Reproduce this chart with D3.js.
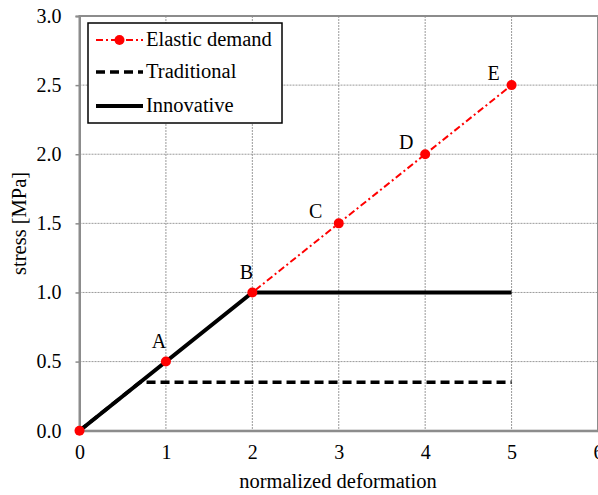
<!DOCTYPE html>
<html lang="en">
<head>
<meta charset="UTF-8" />
<title>Stress vs deformation</title>
<script src="https://cdn.jsdelivr.net/npm/d3@7"></script>
<style>
  body { margin: 0; background: #fff; }
  svg { display: block; font-family: "Liberation Serif", "Times New Roman", serif; }
</style>
</head>
<body>
<svg width="598" height="495"></svg>
<script>
const xTicks = [0, 1, 2, 3, 4, 5, 6];
const yTicks = [0, 0.5, 1.0, 1.5, 2.0, 2.5, 3.0];

const elasticX = [0, 1, 2, 3, 4, 5];
const elasticY = [0, 0.5, 1.0, 1.5, 2.0, 2.5];
const pointNames = ["", "A", "B", "C", "D", "E"];

const traditionalX = [0, 0.7, 5];
const traditionalY = [0, 0.35, 0.35];

const innovativeX = [0, 2, 5];
const innovativeY = [0, 1.0, 1.0];

const legendNames = ["Elastic demand", "Traditional", "Innovative"];

// pixel offsets of the point letters from their markers
const labelDx = [0, -7, -6, -23, -19, -18];
const labelDy = [0, -14, -13, -5, -5, -5];

const svg = d3.select("svg");
const plotL = 79.5, plotR = 598, plotT = 16, plotB = 430.7;

const x = d3.scaleLinear().domain([0, 6]).range([plotL, plotR]);
const y = d3.scaleLinear().domain([0, 3]).range([plotB, plotT]);

// grid
svg.append("g").selectAll("line").data(xTicks.slice(1, -1)).join("line")
  .attr("x1", d => x(d)).attr("x2", d => x(d))
  .attr("y1", plotT).attr("y2", plotB)
  .attr("stroke", "#9a9a9a").attr("stroke-width", 1).attr("stroke-dasharray", "2,1");
svg.append("g").selectAll("line").data(yTicks.slice(1, -1)).join("line")
  .attr("x1", plotL).attr("x2", plotR)
  .attr("y1", d => y(d)).attr("y2", d => y(d))
  .attr("stroke", "#9a9a9a").attr("stroke-width", 1).attr("stroke-dasharray", "2,1");

// frame
svg.append("rect")
  .attr("x", plotL).attr("y", plotT)
  .attr("width", plotR - plotL).attr("height", plotB - plotT)
  .attr("fill", "none").attr("stroke", "#8c8c8c").attr("stroke-width", 2);

// axes
const xAxis = svg.append("g").attr("transform", `translate(0,${plotB})`)
  .call(d3.axisBottom(x).tickValues(xTicks).tickFormat(d3.format("d")).tickSize(0).tickPadding(14));
const yAxis = svg.append("g").attr("transform", `translate(${plotL},0)`)
  .call(d3.axisLeft(y).tickValues(yTicks).tickFormat(d3.format(".1f")).tickSize(4).tickPadding(14));
[xAxis, yAxis].forEach(a => {
  a.select(".domain").attr("stroke", "#8c8c8c").attr("stroke-width", 2);
  a.selectAll(".tick line").attr("stroke", "#8c8c8c").attr("stroke-width", 1.5);
  a.selectAll("text").attr("font-size", 20).attr("fill", "#000")
    .attr("font-family", "Liberation Serif, Times New Roman, serif");
});

const line = d3.line().x(d => x(d[0])).y(d => y(d[1]));

// series: red line below the black ones, markers on top
svg.append("path").datum(d3.zip(elasticX, elasticY))
  .attr("d", line).attr("fill", "none")
  .attr("stroke", "#ff0000").attr("stroke-width", 2).attr("stroke-dasharray", "7,3,2,3");
svg.append("path").datum(d3.zip(traditionalX, traditionalY))
  .attr("d", line).attr("fill", "none")
  .attr("stroke", "#000").attr("stroke-width", 3.5).attr("stroke-dasharray", "9,5");
svg.append("path").datum(d3.zip(innovativeX, innovativeY))
  .attr("d", line).attr("fill", "none")
  .attr("stroke", "#000").attr("stroke-width", 4);
svg.append("g").selectAll("circle").data(d3.zip(elasticX, elasticY)).join("circle")
  .attr("cx", d => x(d[0])).attr("cy", d => y(d[1])).attr("r", 5)
  .attr("fill", "#ff0000");

// point labels
svg.append("g").selectAll("text").data(d3.zip(elasticX, elasticY, pointNames, labelDx, labelDy)).join("text")
  .attr("x", d => x(d[0]) + d[3]).attr("y", d => y(d[1]) + d[4])
  .attr("text-anchor", "middle").attr("font-size", 20)
  .text(d => d[2]);

// axis titles
svg.append("text").attr("x", 338).attr("y", 488)
  .attr("text-anchor", "middle").attr("font-size", 20.5)
  .text("normalized deformation");
svg.append("text")
  .attr("transform", `translate(26,${(plotT + plotB) / 2}) rotate(-90)`)
  .attr("text-anchor", "middle").attr("font-size", 20.5)
  .text("stress [MPa]");

// legend
const lg = svg.append("g");
lg.append("rect").attr("x", 88).attr("y", 23).attr("width", 194).attr("height", 100)
  .attr("fill", "#fff").attr("stroke", "#000").attr("stroke-width", 1.5);
const rows = [40, 72, 106];
rows.forEach((ry, i) => {
  const l = lg.append("line").attr("x1", 96).attr("x2", 143).attr("y1", ry).attr("y2", ry);
  if (i === 0) {
    l.attr("stroke", "#ff0000").attr("stroke-width", 2).attr("stroke-dasharray", "7,3,2,3");
    lg.append("circle").attr("cx", 119.5).attr("cy", ry).attr("r", 5).attr("fill", "#ff0000");
  } else if (i === 1) {
    l.attr("stroke", "#000").attr("stroke-width", 3.5).attr("stroke-dasharray", "9,5");
  } else {
    l.attr("stroke", "#000").attr("stroke-width", 4);
  }
  lg.append("text").attr("x", 146).attr("y", ry + 6).attr("font-size", 20.5)
    .text(legendNames[i]);
});
</script>
</body>
</html>
